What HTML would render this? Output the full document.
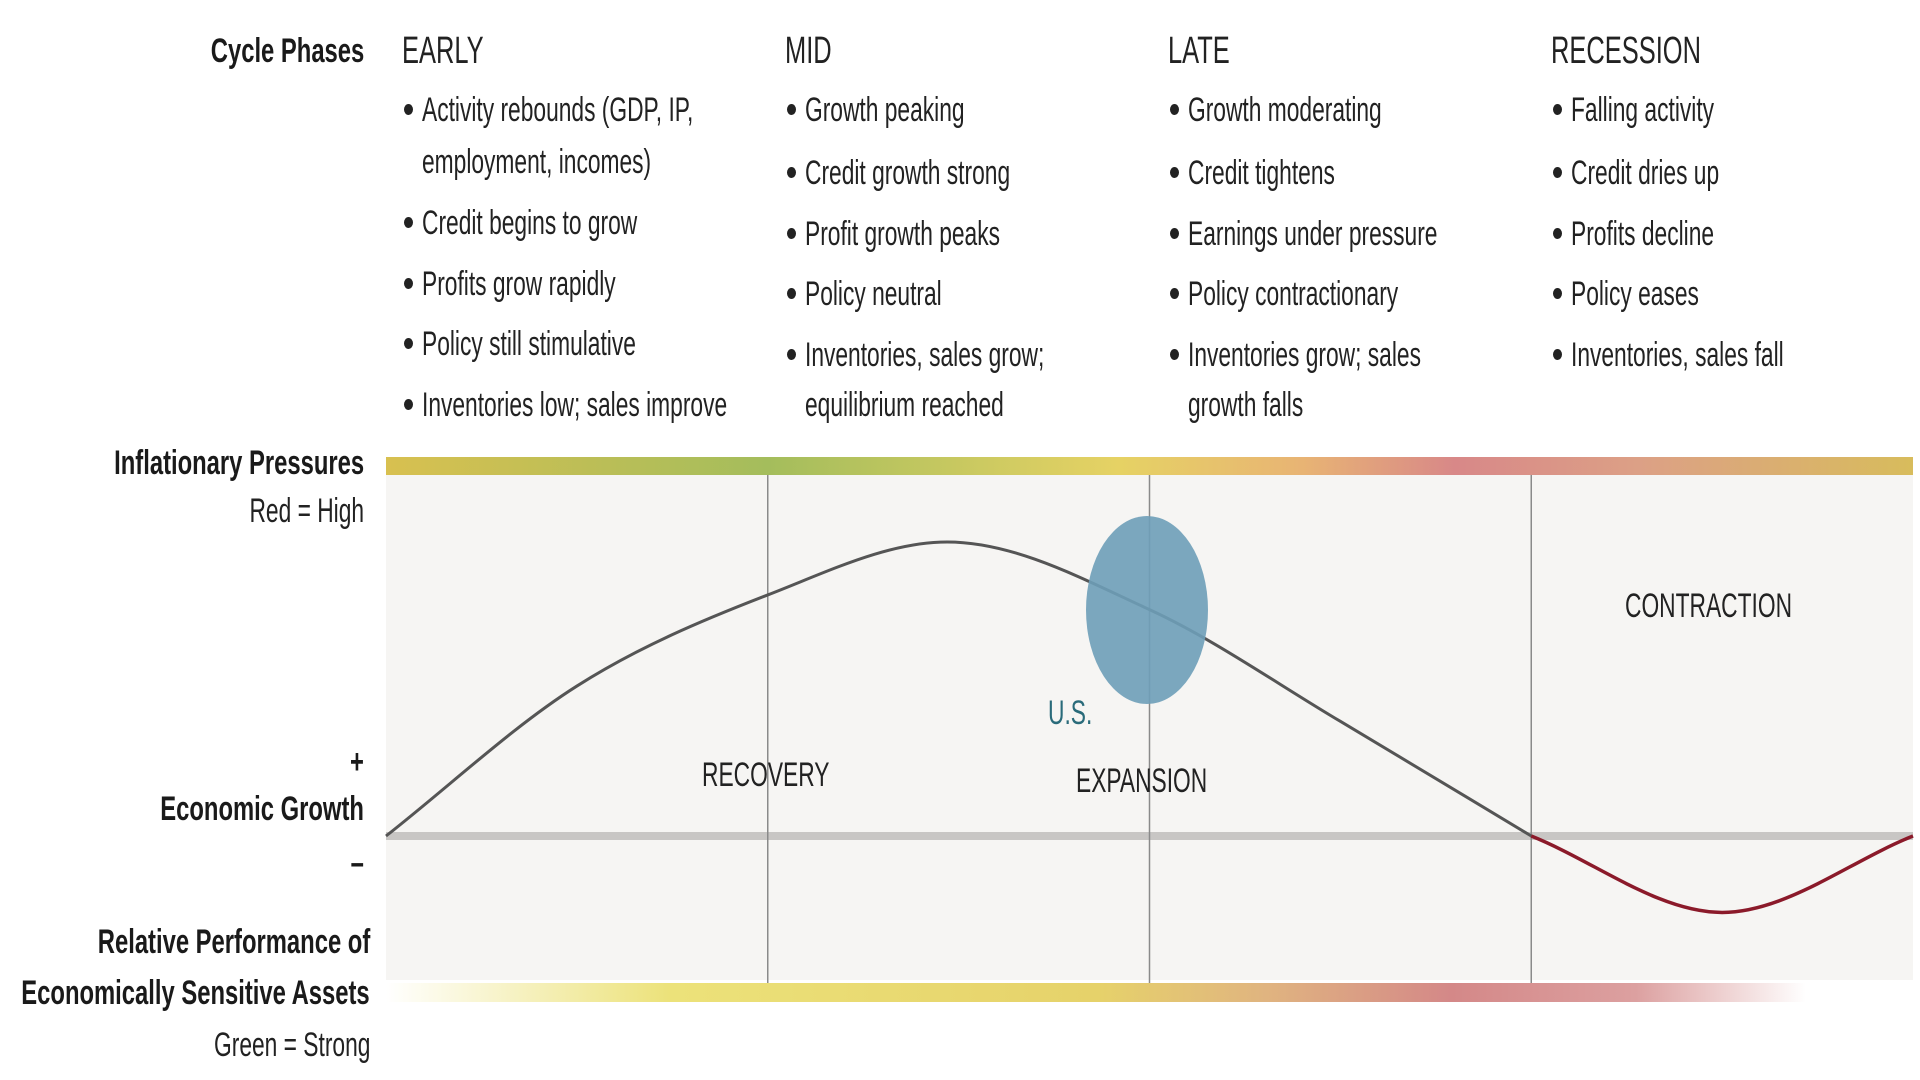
<!DOCTYPE html>
<html><head><meta charset="utf-8">
<style>
html,body{margin:0;padding:0;background:#fff;width:1920px;height:1080px;overflow:hidden}
body{position:relative;font-family:"Liberation Sans Narrow","Liberation Sans",sans-serif;color:#222}
.t{position:absolute;white-space:nowrap;font-size:34px;line-height:40px;height:40px;transform:scaleX(0.67);transform-origin:left center}
.r{transform-origin:right center;text-align:right}
.b{font-weight:bold;color:#1a1a1a;transform:scaleX(0.7)}
.h{font-size:38px}
.dot{position:absolute;width:9px;height:11px;border-radius:50%;background:#222}
svg{position:absolute;left:0;top:0}
</style></head><body>
<svg id="chart" width="1920" height="1080">
<defs>
<linearGradient id="infl" x1="0" x2="1" y1="0" y2="0">
<stop offset="0" stop-color="#d8c050"/><stop offset="0.25" stop-color="#a4bd5c"/><stop offset="0.48" stop-color="#e6d264"/><stop offset="0.6" stop-color="#e8b474"/><stop offset="0.7" stop-color="#d88888"/><stop offset="0.82" stop-color="#dca086"/><stop offset="1" stop-color="#d8bc5c"/>
</linearGradient>
<linearGradient id="perf" x1="0" x2="1" y1="0" y2="0">
<stop offset="0" stop-color="#ffffff"/><stop offset="0.2" stop-color="#ece27a"/><stop offset="0.5" stop-color="#e6d26a"/><stop offset="0.62" stop-color="#e0b480"/><stop offset="0.75" stop-color="#d48888"/><stop offset="0.88" stop-color="#dca0a0"/><stop offset="1" stop-color="#ffffff"/>
</linearGradient>
</defs>
<rect x="386" y="475" width="1527" height="505" fill="#f6f5f3"/>
<rect x="386" y="457" width="1527" height="18" fill="url(#infl)"/>
<rect x="386" y="983" width="1420" height="19" fill="url(#perf)"/>
<rect x="386" y="832" width="1527" height="8" fill="#c8c6c4"/>
<g id="dividers"></g>
<g id="curves"></g>
<ellipse cx="1147" cy="610" rx="61" ry="94" fill="#6e9fb8" opacity="0.9"/>
</svg>

<div class="t r b" style="right:1556px;top:31px">Cycle Phases</div>
<div class="t h" style="left:402px;top:31px">EARLY</div>
<div class="t h" style="left:785px;top:31px">MID</div>
<div class="t h" style="left:1168px;top:31px">LATE</div>
<div class="t h" style="left:1551px;top:31px">RECESSION</div>

<div id="bullets"></div>

<div class="t r b" style="right:1556px;top:443px">Inflationary Pressures</div>
<div class="t r" style="right:1556px;top:491px">Red = High</div>
<div class="t r b" style="right:1556px;top:742px">+</div>
<div class="t r b" style="right:1556px;top:789px">Economic Growth</div>
<div class="t r b" style="right:1556px;top:843px">–</div>
<div class="t r b" style="right:1550px;top:922px">Relative Performance of</div>
<div class="t r b" style="right:1550px;top:973px">Economically Sensitive Assets</div>
<div class="t r" style="right:1550px;top:1025px">Green = Strong</div>

<div class="t" style="left:702px;top:755px">RECOVERY</div>
<div class="t" style="left:1048px;top:693px;color:#2a6b7a">U.S.</div>
<div class="t" style="left:1076px;top:761px">EXPANSION</div>
<div class="t" style="left:1625px;top:586px">CONTRACTION</div>

<script>
// Economic growth curve data (x in phase units 0..4, y relative growth)
const phaseX = [0, 0.5, 1, 1.47, 2, 2.5, 3];
const growthY = [0, 51, 82, 100, 77, 39, 0];
const contractionX = [3, 3.5, 4];
const contractionY = [0, -26, 0];
const dividerPhases = [1, 2, 3];

const x = v => 386 + v * 381.75;
const y = v => 836 - v * 2.94;
const NS = "http://www.w3.org/2000/svg";

// monotone cubic (Fritsch-Carlson) path
function smoothPath(xs, ys) {
  const n = xs.length, d = [], m = [];
  for (let i = 0; i < n - 1; i++) d.push((ys[i + 1] - ys[i]) / (xs[i + 1] - xs[i]));
  m[0] = d[0]; m[n - 1] = d[n - 2];
  for (let i = 1; i < n - 1; i++) m[i] = (d[i - 1] * d[i] <= 0) ? 0 : (d[i - 1] + d[i]) / 2;
  for (let i = 0; i < n - 1; i++) {
    if (d[i] === 0) { m[i] = 0; m[i + 1] = 0; continue; }
    const a = m[i] / d[i], b = m[i + 1] / d[i], s = a * a + b * b;
    if (s > 9) { const t = 3 / Math.sqrt(s); m[i] = t * a * d[i]; m[i + 1] = t * b * d[i]; }
  }
  let p = "M" + x(xs[0]) + "," + y(ys[0]);
  for (let i = 0; i < n - 1; i++) {
    const h = (xs[i + 1] - xs[i]) / 3;
    p += " C" + x(xs[i] + h) + "," + y(ys[i] + m[i] * h) + " " + x(xs[i + 1] - h) + "," + y(ys[i + 1] - m[i + 1] * h) + " " + x(xs[i + 1]) + "," + y(ys[i + 1]);
  }
  return p;
}

const dv = document.getElementById("dividers");
dividerPhases.forEach(ph => {
  const l = document.createElementNS(NS, "line");
  
  
  l.setAttribute("x1", x(ph)); l.setAttribute("x2", x(ph));
  l.setAttribute("y1", 475); l.setAttribute("y2", 983);
  l.setAttribute("stroke", "#8a8a8a"); l.setAttribute("stroke-width", "1.5");
  dv.appendChild(l);
});

const cg = document.getElementById("curves");
const g1 = document.createElementNS(NS, "path");


g1.setAttribute("d", smoothPath(phaseX, growthY));
g1.setAttribute("fill", "none"); g1.setAttribute("stroke", "#555"); g1.setAttribute("stroke-width", "3");
cg.appendChild(g1);
const g2 = document.createElementNS(NS, "path");


g2.setAttribute("d", smoothPath(contractionX, contractionY));
g2.setAttribute("fill", "none"); g2.setAttribute("stroke", "#8b1a2a"); g2.setAttribute("stroke-width", "3.5");
cg.appendChild(g2);

// Bullet text
const cols = [
  [402, [["Activity rebounds (GDP, IP,",110,1],["employment, incomes)",162,0],["Credit begins to grow",223,1],["Profits grow rapidly",284,1],["Policy still stimulative",344,1],["Inventories low; sales improve",405,1]]],
  [785, [["Growth peaking",110,1],["Credit growth strong",173,1],["Profit growth peaks",234,1],["Policy neutral",294,1],["Inventories, sales grow;",355,1],["equilibrium reached",405,0]]],
  [1168,[["Growth moderating",110,1],["Credit tightens",173,1],["Earnings under pressure",234,1],["Policy contractionary",294,1],["Inventories grow; sales",355,1],["growth falls",405,0]]],
  [1551,[["Falling activity",110,1],["Credit dries up",173,1],["Profits decline",234,1],["Policy eases",294,1],["Inventories, sales fall",355,1]]]
];
const bl = document.getElementById("bullets");
cols.forEach(([cx, lines]) => {
  lines.forEach(([txt, cy, hasDot]) => {
    if (hasDot) {
      const d = document.createElement("div");
      d.className = "dot";
      
      
      d.style.left = (cx + 2) + "px"; d.style.top = (cy - 6) + "px";
      bl.appendChild(d);
    }
    const t = document.createElement("div");
    t.className = "t";
    
    
    t.style.left = (cx + 20) + "px"; t.style.top = (cy - 20) + "px";
    t.textContent = txt;
    bl.appendChild(t);
  });
});
</script>
</body></html>
